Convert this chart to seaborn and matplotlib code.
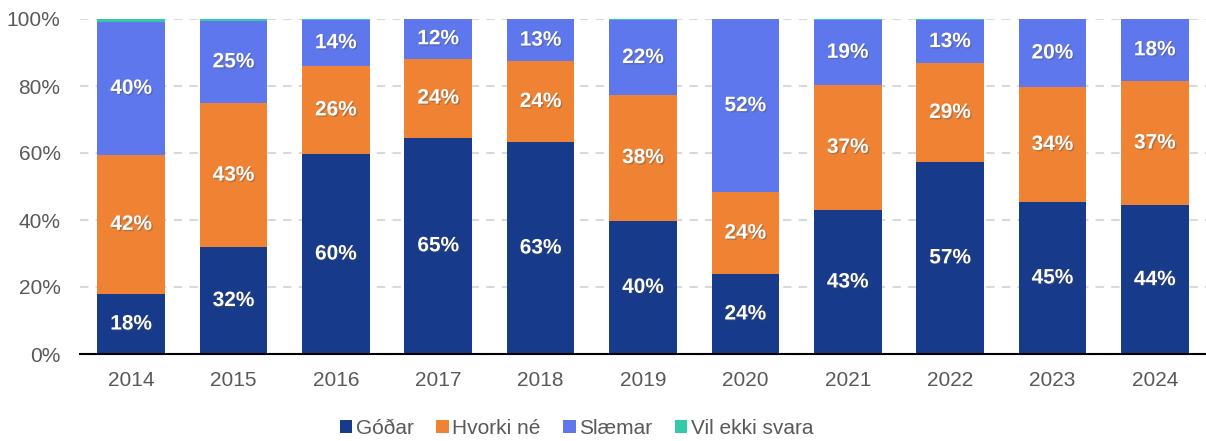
import numpy as np
import pandas as pd
import matplotlib.pyplot as plt
import matplotlib.patheffects as pe
from matplotlib.patches import Patch
import seaborn as sns

years = ['2014', '2015', '2016', '2017', '2018', '2019', '2020', '2021', '2022', '2023', '2024']
godar = [17.9, 31.9, 59.7, 64.6, 63.3, 39.8, 23.9, 43.0, 57.4, 45.4, 44.4]
hvorki = [41.6, 43.0, 26.3, 23.6, 24.1, 37.6, 24.4, 37.4, 29.4, 34.3, 37.2]
slaemar = [39.6, 24.6, 13.8, 11.8, 12.6, 22.2, 51.7, 19.3, 12.9, 20.3, 18.4]
vil_ekki = [0.9, 0.5, 0.2, 0.0, 0.0, 0.4, 0.0, 0.3, 0.3, 0.0, 0.0]

categories = ['Góðar', 'Hvorki né', 'Slæmar', 'Vil ekki svara']
colors = ['#173a8b', '#f08233', '#5f77ec', '#33c9a6']

df = pd.DataFrame({'year': years, 'Góðar': godar, 'Hvorki né': hvorki,
                   'Slæmar': slaemar, 'Vil ekki svara': vil_ekki})
cum = df[categories].cumsum(axis=1)

sns.set_style('white')
plt.rcParams['font.family'] = ['Liberation Sans', 'DejaVu Sans']

fig = plt.figure(figsize=(12.06, 4.41), dpi=100)
ax = fig.add_axes([80 / 1206, 87 / 441, 1 - 80 / 1206, (354 - 19) / 441])

# draw cumulative tops from the top layer down so each segment shows
for cat, col in zip(categories[::-1], colors[::-1]):
    sns.barplot(x=df['year'], y=cum[cat], color=col, width=0.66, saturation=1,
                linewidth=0, ax=ax, zorder=2)

shadow = [pe.SimplePatchShadow(offset=(1, -1), alpha=0.35), pe.Normal()]
for i in range(len(years)):
    base = 0
    for cat in categories[:3]:
        v = df[cat][i]
        ax.text(i, base + v / 2, f'{v:.0f}%', ha='center', va='center',
                color='white', fontsize=15, fontweight='bold',
                path_effects=shadow, zorder=4)
        base += v

ax.set_ylim(0, 100)
ax.set_xlim(-0.5, len(years) - 0.5)
ax.set_yticks(np.arange(0, 101, 20))
ax.set_yticklabels([f'{t}%' for t in range(0, 101, 20)])
ax.set_xlabel('')
ax.set_ylabel('')
ax.tick_params(axis='both', length=0, labelsize=15, labelcolor='#595959')
ax.tick_params(axis='y', pad=14)
ax.tick_params(axis='x', pad=12)
ax.set_axisbelow(True)
ax.yaxis.grid(True, color='#d9d9d9', linewidth=1.5, linestyle=(0, (4, 3.5)))
for s in ['top', 'right', 'left']:
    ax.spines[s].set_visible(False)
ax.spines['bottom'].set_color('black')
ax.spines['bottom'].set_linewidth(1.5)
ax.spines['bottom'].set_zorder(5)

handles = [Patch(facecolor=c, edgecolor='none', label=l) for l, c in zip(categories, colors)]
leg = fig.legend(handles=handles, loc='center', bbox_to_anchor=(0.478, 0.029), ncol=4,
                 frameon=False, fontsize=15, handlelength=0.6, handleheight=0.6,
                 handletextpad=0.15, columnspacing=1.1, labelcolor='#595959')

fig.savefig('out.png', dpi=100)
